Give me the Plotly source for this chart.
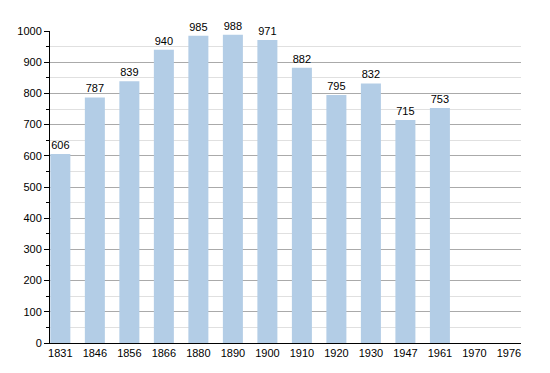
import plotly.graph_objects as go

years = ["1831", "1846", "1856", "1866", "1880", "1890", "1900", "1910", "1920", "1930", "1947", "1961", "1970", "1976"]
population = [606, 787, 839, 940, 985, 988, 971, 882, 795, 832, 715, 753, None, None]
labels = [str(v) if v is not None else "" for v in population]

fig = go.Figure()
fig.add_trace(go.Bar(
    x=list(range(len(years))), y=population,
    text=labels, textposition="outside",
    textfont=dict(family="Liberation Sans, Arial", size=11, color="black"),
    marker=dict(color="#b3cde6", line=dict(width=0)),
    width=0.58, cliponaxis=False,
))
# page body has an 8px default margin, so the figure is offset by (8, 8)
fig.update_layout(
    width=542, height=365,
    margin=dict(l=42, r=29, t=23, b=30, autoexpand=False),
    plot_bgcolor="white", paper_bgcolor="white",
    showlegend=False,
    font=dict(family="Liberation Sans, Arial", size=11, color="black"),
    xaxis=dict(
        tickmode="array", tickvals=list(range(len(years))), ticktext=years,
        range=[-0.3, 13.35], showgrid=False, zeroline=False,
        showline=True, linecolor="black", linewidth=1, ticks="",
        tickfont=dict(size=11), automargin=False,
    ),
    yaxis=dict(
        range=[0, 1000], dtick=100, showgrid=True, gridcolor="#aaaaaa", gridwidth=1,
        zeroline=False, showline=True, linecolor="black", linewidth=1,
        ticks="outside", ticklen=5, tickcolor="black", automargin=False,
        minor=dict(dtick=50, showgrid=True, gridcolor="#e0e0e0", ticks="outside", ticklen=3, tickcolor="black"),
        tickfont=dict(size=11),
    ),
)
fig.write_html("out.html")
